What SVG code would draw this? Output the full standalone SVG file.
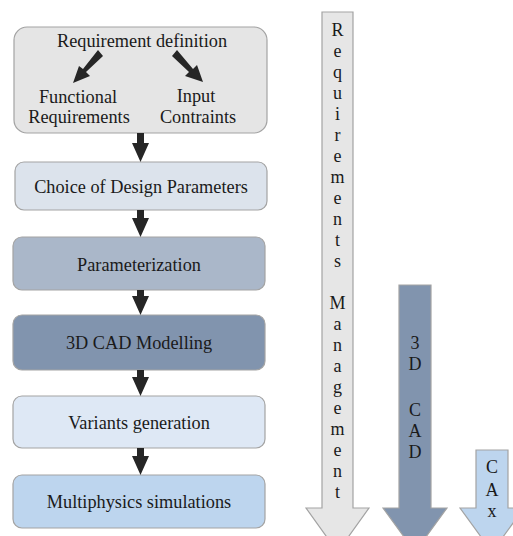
<svg xmlns="http://www.w3.org/2000/svg" width="513" height="536" viewBox="0 0 513 536">
<style>
.box{stroke:#a3a3a3;stroke-width:1.2}
.t{font-family:"Liberation Serif","Times New Roman",serif;font-size:18.3px;fill:#1a1a1a;text-anchor:middle}
.v{font-family:"Liberation Serif","Times New Roman",serif;font-size:18px;fill:#1a1a1a;text-anchor:middle}
.ar{fill:#262626}
.big{stroke:#a3a3a3;stroke-width:1.2}
</style>
<rect width="513" height="536" fill="#ffffff"/>
<g id="req-def">
<rect class="box" x="14" y="27" width="253" height="106" rx="13" fill="#e5e5e5"/>
<text class="t" x="142" y="47">Requirement definition</text>
<text class="t" x="78" y="103">Functional</text>
<text class="t" x="79" y="123">Requirements</text>
<text class="t" x="196" y="102">Input</text>
<text class="t" x="198" y="123">Contraints</text>
<polygon class="ar" points="98,50 103,56 86,72 90,76 73,83 79,66 83,69"/>
<polygon class="ar" points="177,50 172,56 189,72 185,76 203,82 197,65 193,69"/>
</g>
<g id="choice">
<rect class="box" x="15" y="162" width="252" height="48" rx="9" fill="#dce3ec"/>
<text class="t" x="141" y="193">Choice of Design Parameters</text>
</g>
<g id="param">
<rect class="box" x="13" y="237" width="252" height="53" rx="9" fill="#aab7c9"/>
<text class="t" x="139" y="271">Parameterization</text>
</g>
<g id="cad">
<rect class="box" x="13" y="315" width="252" height="55" rx="9" fill="#8194ae"/>
<text class="t" x="139" y="349">3D CAD Modelling</text>
</g>
<g id="variants">
<rect class="box" x="13" y="396" width="252" height="52" rx="9" fill="#dee8f5"/>
<text class="t" x="139" y="429">Variants generation</text>
</g>
<g id="multi">
<rect class="box" x="13" y="475" width="252" height="53" rx="9" fill="#bdd5ee"/>
<text class="t" x="139" y="508">Multiphysics simulations</text>
</g>
<g id="connectors">
<polygon class="ar" points="137,133 144,133 144,143 149,143 140.5,162 132,143 137,143"/>
<polygon class="ar" points="137,210 144,210 144,218 149,218 140.5,237 132,218 137,218"/>
<polygon class="ar" points="137,290 144,290 144,296 149,296 140.5,315 132,296 137,296"/>
<polygon class="ar" points="137,370 144,370 144,377 149,377 140.5,396 132,377 137,377"/>
<polygon class="ar" points="137,448 144,448 144,456 149,456 140.5,475 132,456 137,456"/>
</g>
<g id="req-mgmt">
<polygon class="big" fill="#e6e6e6" points="322,12 353,12 353,508 369,508 337.5,552 306,508 322,508"/>
<text class="v" x="337.5" y="36">R</text>
<text class="v" x="337.5" y="57">e</text>
<text class="v" x="337.5" y="78">q</text>
<text class="v" x="337.5" y="99">u</text>
<text class="v" x="337.5" y="120">i</text>
<text class="v" x="337.5" y="141">r</text>
<text class="v" x="337.5" y="162">e</text>
<text class="v" x="337.5" y="183">m</text>
<text class="v" x="337.5" y="204">e</text>
<text class="v" x="337.5" y="225">n</text>
<text class="v" x="337.5" y="246">t</text>
<text class="v" x="337.5" y="267">s</text>
<text class="v" x="337.5" y="309">M</text>
<text class="v" x="337.5" y="330">a</text>
<text class="v" x="337.5" y="351">n</text>
<text class="v" x="337.5" y="372">a</text>
<text class="v" x="337.5" y="393">g</text>
<text class="v" x="337.5" y="414">e</text>
<text class="v" x="337.5" y="435">m</text>
<text class="v" x="337.5" y="456">e</text>
<text class="v" x="337.5" y="477">n</text>
<text class="v" x="337.5" y="498">t</text>
</g>
<g id="cad-arrow">
<polygon class="big" fill="#8194ae" points="399,285 431,285 431,508 447,508 415,552 383,508 399,508"/>
<text class="v" x="415" y="349">3</text>
<text class="v" x="415" y="370">D</text>
<text class="v" x="415" y="416">C</text>
<text class="v" x="415" y="437">A</text>
<text class="v" x="415" y="458">D</text>
</g>
<g id="cax-arrow">
<polygon class="big" fill="#bdd5ee" points="476,450 508,450 508,508 524,508 492,552 460,508 476,508"/>
<text class="v" x="492" y="473">C</text>
<text class="v" x="492" y="496">A</text>
<text class="v" x="492" y="517">x</text>
</g>
</svg>
